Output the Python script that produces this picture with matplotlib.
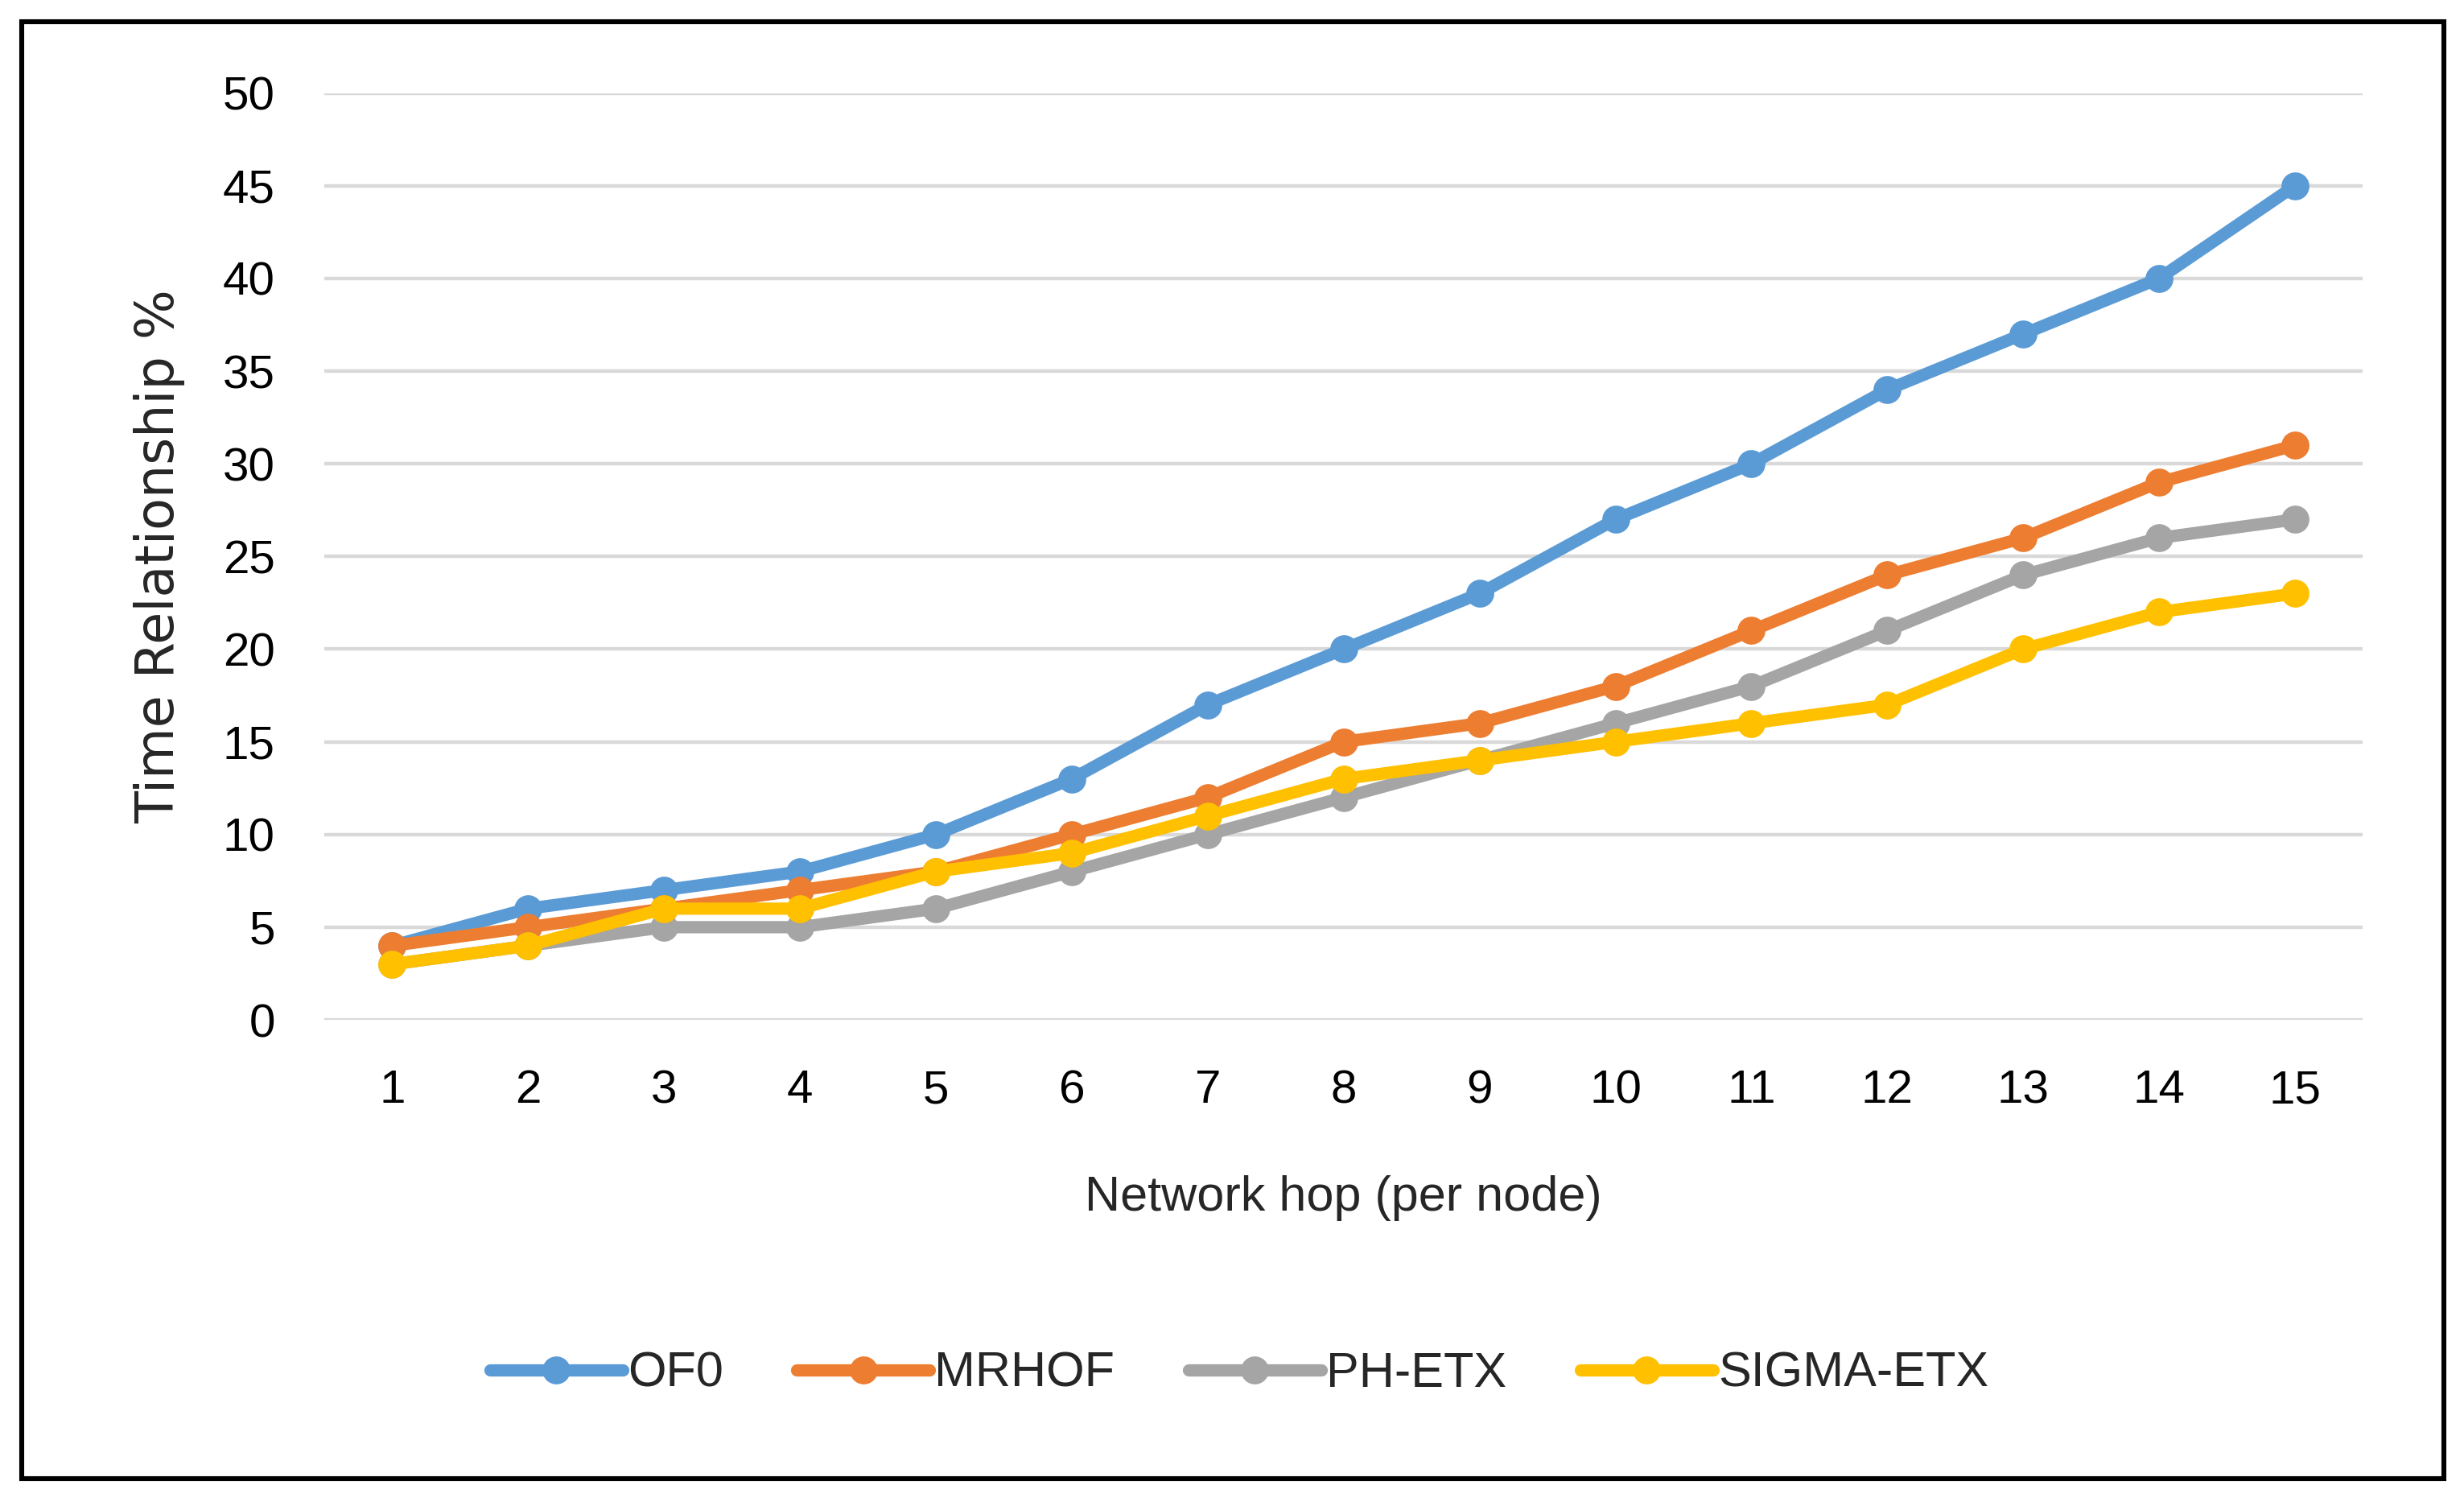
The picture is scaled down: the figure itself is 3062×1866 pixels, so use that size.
import numpy as np
import matplotlib
matplotlib.use("Agg")
import matplotlib.pyplot as plt
import matplotlib.patches as mplp

# data
hops = list(range(1, 16))
of0 = [4, 6, 7, 8, 10, 13, 17, 20, 23, 27, 30, 34, 37, 40, 45]
mrhof = [4, 5, 6, 7, 8, 10, 12, 15, 16, 18, 21, 24, 26, 29, 31]
ph_etx = [3, 4, 5, 5, 6, 8, 10, 12, 14, 16, 18, 21, 24, 26, 27]
sigma_etx = [3, 4, 6, 6, 8, 9, 11, 13, 14, 15, 16, 17, 20, 22, 23]

series = [
    ("OF0", of0, "#5B9BD5"),
    ("MRHOF", mrhof, "#ED7D31"),
    ("PH-ETX", ph_etx, "#A5A5A5"),
    ("SIGMA-ETX", sigma_etx, "#FFC000"),
]
yticks = list(range(0, 51, 5))

plt.rcParams['font.family'] = ['Liberation Sans Narrow', 'Liberation Sans', 'DejaVu Sans']

fig = plt.figure(figsize=(15.31, 9.33), dpi=200)
ax = fig.add_axes([0.1316, 0.321, 0.8274, 0.617])

for name, vals, color in series:
    ax.plot(hops, vals, color=color, linewidth=5.5, marker="o",
            markersize=11.5, label=name, solid_capstyle="round", zorder=3)

ax.set_xlim(0.5, 15.5)
ax.set_ylim(0, 50)
ax.set_yticks(yticks)
ax.set_xticks(hops)
ax.grid(axis="y", color="#D9D9D9", linewidth=1.6, zorder=0)
ax.set_axisbelow(True)
for s in ax.spines.values():
    s.set_visible(False)
ax.tick_params(axis="both", length=0, labelsize=21, colors="#000000")
ax.tick_params(axis="x", pad=22)
ax.tick_params(axis="y", pad=22)

ax.set_xlabel("Network hop (per node)", fontsize=22, color="#262626", labelpad=28)
ax.set_ylabel("Time Relationship %", fontsize=23.5, color="#262626", labelpad=17,
              family=["DejaVu Sans"])

ax.legend(loc="center", bbox_to_anchor=(787 / 1565, 1 - 872 / 953),
          bbox_transform=fig.transFigure, ncol=4, frameon=False,
          fontsize=22, handlelength=2.7, handletextpad=0.1, columnspacing=1.5,
          labelcolor="#262626")

# outer frame
fig.patches.append(mplp.Rectangle((14 / 1565, 1 - 938 / 953), (1552 - 14) / 1565,
                                  (938 - 14) / 953, transform=fig.transFigure,
                                  fill=False, edgecolor="black", linewidth=2.2))

fig.savefig("out.png", dpi=200)
